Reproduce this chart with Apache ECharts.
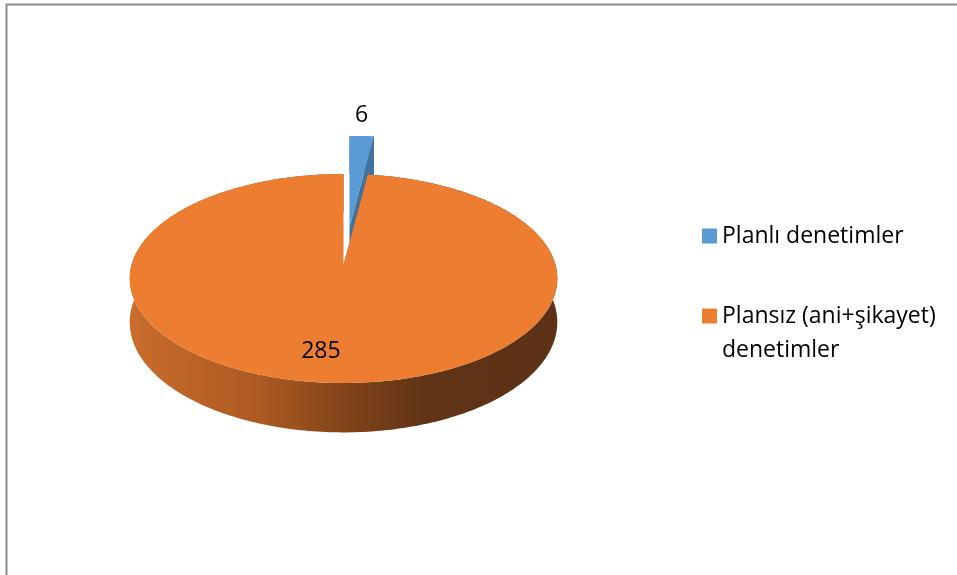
<!DOCTYPE html>
<html>
<head>
<meta charset="utf-8">
<title>Denetimler</title>
<script src="https://cdn.jsdelivr.net/npm/echarts@6/dist/echarts.min.js"></script>
<style>
  html, body { margin: 0; padding: 0; background: #ffffff; }
  #chart { width: 957px; height: 575px; }
</style>
</head>
<body>
<div id="chart"></div>
<script>
// Inspection counts by type
const categories = ['Planlı denetimler', 'Plansız (ani+şikayet) denetimler'];
const values = [6, 285];

// Slice appearance
const topColors = ['#5B9BD5', '#ED7D31'];
const cutColors = ['#41719C', '#A9551E'];
const explodeOffsets = [[6, -38], [0, 0]];   // screen px shift of each slice

// Disc projection (perspective view of a flat cylinder)
const CX = 343.5, CY = 265, RX = 212, RY = 102.8, PERSP = 0.129, DEPTH = 43;

function project(u, v, z) {
  const d = 1 - PERSP * v;
  return [CX + RX * u / d, CY + (RY * v + DEPTH * z) / d];
}

const total = values.reduce((a, b) => a + b, 0);

function sliceAngles(i) {
  let before = 0;
  for (let k = 0; k < i; k++) before += values[k];
  const a0 = before / total * Math.PI * 2;
  const a1 = (before + values[i]) / total * Math.PI * 2;
  return [a0, a1];
}

function renderSlice(params, api) {
  const i = params.seriesIndex;
  const val = api.value(0);
  const [a0, a1] = sliceAngles(i);
  const off = explodeOffsets[i];
  const pt = (ang, r, z) => {
    const p = project(r * Math.sin(ang), -r * Math.cos(ang), z);
    return [p[0] + off[0], p[1] + off[1]];
  };
  const steps = Math.max(4, Math.ceil((a1 - a0) / (Math.PI / 180)));
  const rimTop = [], rimBot = [];
  for (let s = 0; s <= steps; s++) {
    const a = a0 + (a1 - a0) * s / steps;
    rimTop.push(pt(a, 1, 0));
    rimBot.push(pt(a, 1, 1));
  }
  const children = [];

  // outer wall
  const sideFill = i === 1
    ? new echarts.graphic.LinearGradient(0, 0, 1, 0, [
        { offset: 0, color: '#C96C2C' },
        { offset: 0.3, color: '#AD5A22' },
        { offset: 0.5, color: '#834519' },
        { offset: 0.68, color: '#623417' },
        { offset: 1, color: '#5C3115' }
      ])
    : cutColors[i];
  children.push({
    type: 'polygon',
    shape: { points: rimTop.concat(rimBot.slice().reverse()) },
    style: { fill: sideFill }
  });

  // radial cut faces
  [a0, a1].forEach(function (a) {
    children.push({
      type: 'polygon',
      shape: { points: [pt(a, 0, 0), pt(a, 1, 0), pt(a, 1, 1), pt(a, 0, 1)] },
      style: { fill: cutColors[i] }
    });
  });

  // top face
  children.push({
    type: 'polygon',
    shape: { points: [pt(0, 0, 0)].concat(rimTop) },
    style: { fill: topColors[i] }
  });

  // value label
  const mid = (a0 + a1) / 2;
  let labelPos;
  if (i === 0) {
    labelPos = pt(mid, 1, 0);
    labelPos[1] -= 21;
  } else {
    labelPos = pt(mid, 0.76, 0);
    labelPos[0] -= 11;
  }
  children.push({
    type: 'text',
    x: labelPos[0],
    y: labelPos[1],
    style: {
      text: String(val),
      fill: '#000000',
      font: '23px "Open Sans"',
      align: 'center',
      verticalAlign: 'middle'
    }
  });

  return { type: 'group', children: children };
}

const series = categories.map(function (name, i) {
  return {
    type: 'custom',
    name: name,
    coordinateSystem: 'none',
    z: 2 + i,
    silent: true,
    itemStyle: { color: topColors[i] },
    renderItem: renderSlice,
    data: [[values[i]]]
  };
});

const legendText = {
  fontFamily: 'Open Sans',
  fontSize: 23,
  color: '#000000',
  lineHeight: 34
};

const chart = echarts.init(document.getElementById('chart'), null, { renderer: 'canvas' });
chart.setOption({
  animation: false,
  backgroundColor: '#ffffff',
  graphic: [
    {
      type: 'polyline',
      silent: true,
      shape: { points: [[6.5, 575], [6.5, 4.5], [957, 4.5]] },
      style: { stroke: '#8C8C8C', lineWidth: 2, fill: null }
    }
  ],
  legend: [
    {
      data: [categories[0]],
      left: 702,
      top: 219,
      padding: 0,
      icon: 'rect',
      itemWidth: 15,
      itemHeight: 15,
      selectedMode: false,
      textStyle: legendText
    },
    {
      data: [categories[1]],
      left: 702,
      top: 265,
      padding: 0,
      icon: 'rect',
      itemWidth: 15,
      itemHeight: 15,
      selectedMode: false,
      textStyle: legendText,
      // keep the marker beside the first line of the wrapped name
      formatter: function (name) {
        return '\n' + name.replace(') ', ')\n');
      }
    }
  ],
  series: series
});
</script>
</body>
</html>
